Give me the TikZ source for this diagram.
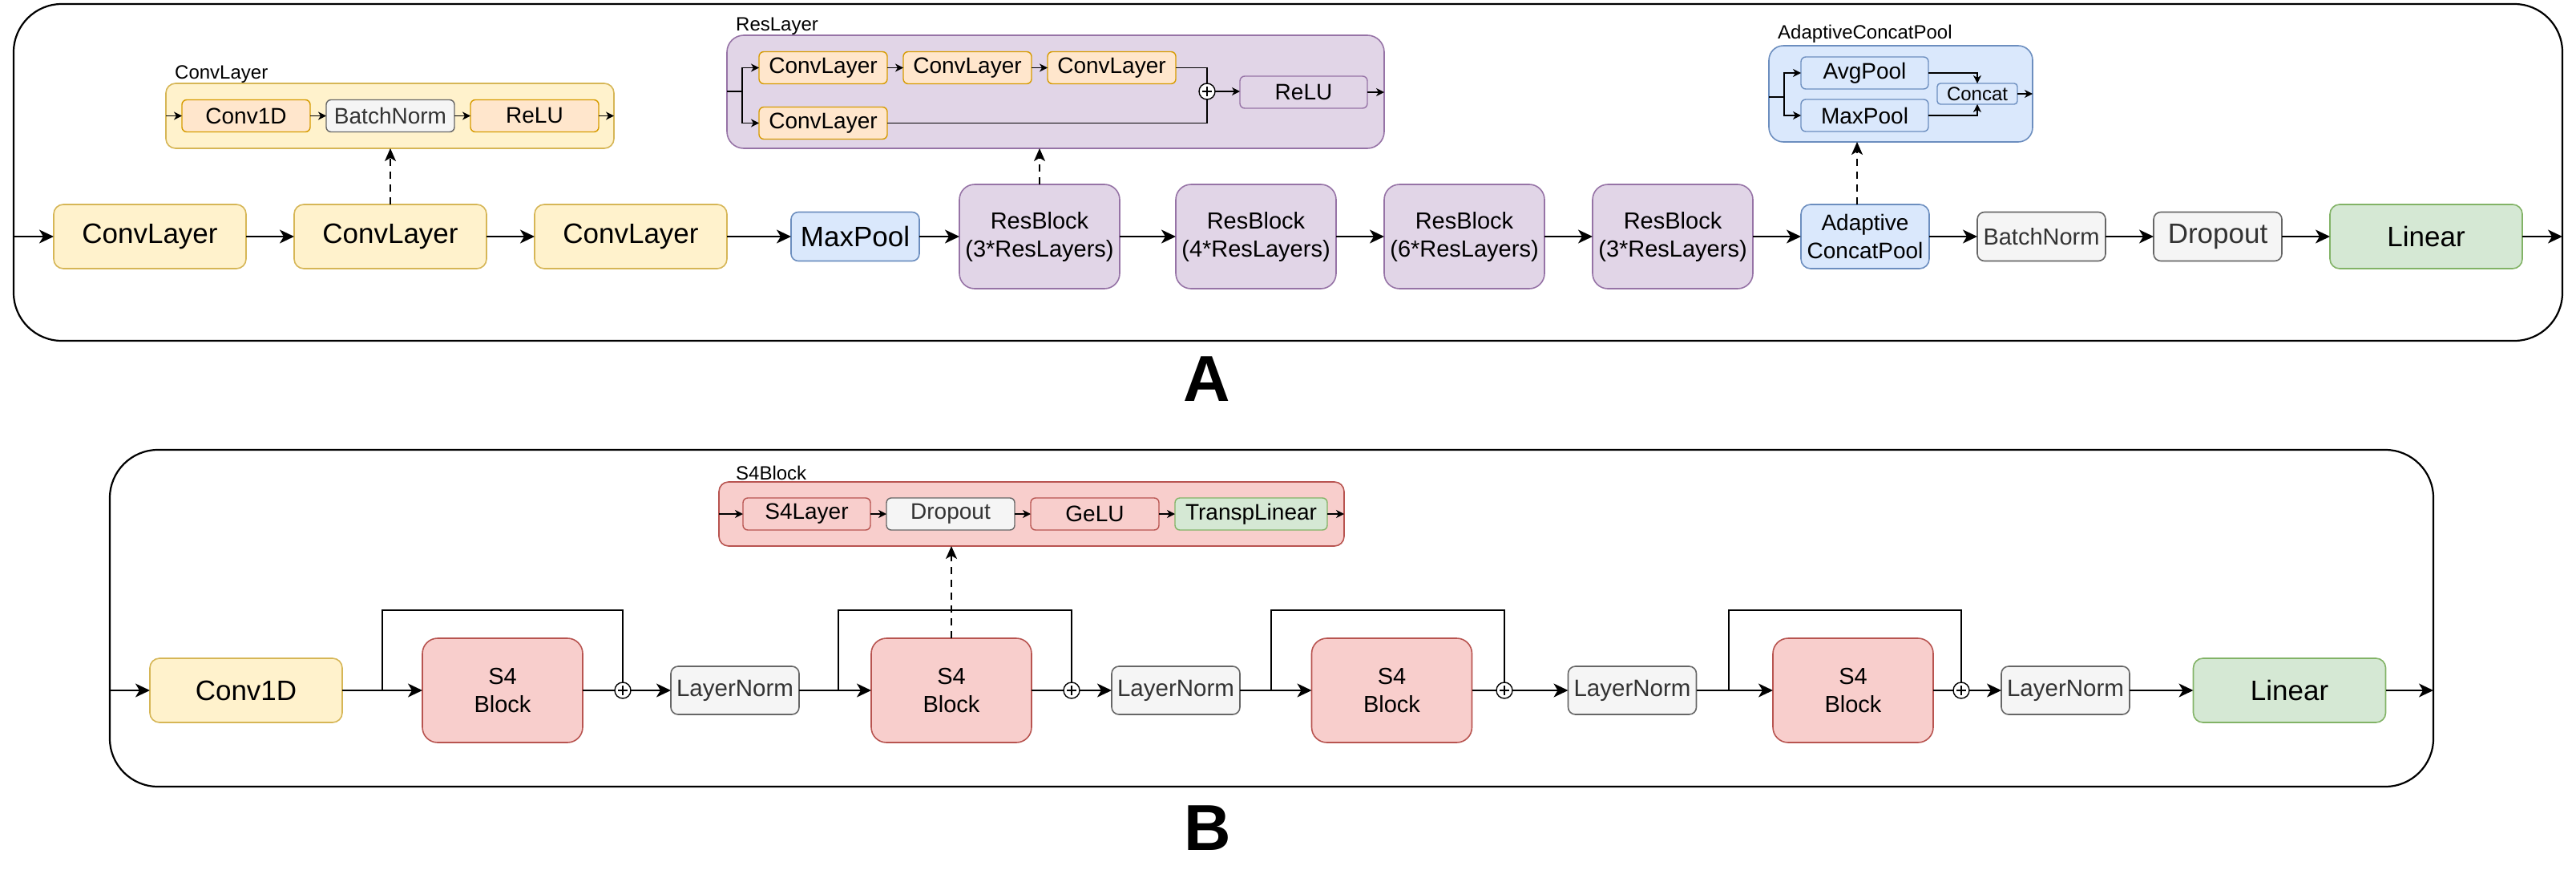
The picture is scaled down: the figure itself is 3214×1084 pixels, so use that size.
\documentclass[tikz,border=0pt]{standalone}
\usepackage{fontspec}
\setmainfont{Liberation Sans}
\usetikzlibrary{positioning}
\usetikzlibrary{arrows.meta}
\definecolor{yelF}{HTML}{FFF2CC}
\definecolor{yelD}{HTML}{D6B656}
\definecolor{orF}{HTML}{FFE6CC}
\definecolor{orD}{HTML}{D79B00}
\definecolor{grF}{HTML}{F5F5F5}
\definecolor{grD}{HTML}{666666}
\definecolor{grT}{HTML}{333333}
\definecolor{blF}{HTML}{DAE8FC}
\definecolor{blD}{HTML}{6C8EBF}
\definecolor{puF}{HTML}{E1D5E7}
\definecolor{puD}{HTML}{9673A6}
\definecolor{reF}{HTML}{F8CECC}
\definecolor{reD}{HTML}{B85450}
\definecolor{gnF}{HTML}{D5E8D4}
\definecolor{gnD}{HTML}{82B366}
\tikzset{
    mynodey/.style = {draw=yelD, fill=yelF, text=black},
    mynodeo/.style = {draw=orD, fill=orF, text=black},
    mynodeg/.style = {draw=grD, fill=grF, text=grT},
    mynodeb/.style = {draw=blD, fill=blF, text=black},
    mynodep/.style = {draw=puD, fill=puF, text=black},
    mynoder/.style = {draw=reD, fill=reF, text=black},
    mynodegr/.style = {draw=gnD, fill=gnF, text=black},
    boxwide/.style = {rectangle, line width=1.6pt, align=center, inner sep=0pt, outer sep=0pt, minimum width=240pt, minimum height=80pt, rounded corners=12pt, font=\fontsize{35}{42}\selectfont},
    boxmid/.style = {rectangle, line width=1.6pt, align=center, inner sep=0pt, outer sep=0pt, minimum width=160pt, minimum height=61pt, rounded corners=9pt, font=\fontsize{35}{42}\selectfont},
    boxtall/.style = {rectangle, line width=1.6pt, align=center, inner sep=0pt, outer sep=0pt, minimum width=200pt, minimum height=130pt, rounded corners=19pt, font=\fontsize{29}{35}\selectfont},
    boxin/.style = {rectangle, line width=1.4pt, align=center, inner sep=0pt, outer sep=0pt, minimum width=160pt, minimum height=40pt, rounded corners=6pt, font=\fontsize{28}{33}\selectfont},
    boxgroup/.style = {rectangle, line width=1.6pt, inner sep=0pt, outer sep=0pt},
    lbl/.style = {anchor=base west, inner sep=0pt, font=\fontsize{24}{28}\selectfont},
    sumnode/.style = {circle, draw, line width=1.4pt, fill=white, minimum size=20pt, inner sep=0pt, outer sep=0pt,
        path picture={\draw[line width=1.2pt] ([yshift=-6pt]path picture bounding box.center) -- ([yshift=6pt]path picture bounding box.center)
                                               ([xshift=-6pt]path picture bounding box.center) -- ([xshift=6pt]path picture bounding box.center);}},
    frame/.style = {draw, line width=2.2pt, rounded corners=60pt},
    edgen/.style = {-{Stealth[length=18pt,width=17pt,inset=5pt]}, line width=2pt, black},
    edgel/.style = {-, line width=2pt, black},
    edges/.style = {-{Stealth[length=10pt,width=10pt,inset=3pt]}, line width=1.6pt, black},
    edgesl/.style = {-, line width=1.6pt, black},
    edgeskip/.style = {-, line width=1.6pt, black}, % residual
    edged/.style = {-{Stealth[length=16pt,width=14pt,inset=4pt]}, line width=1.5pt, black, dash pattern=on 9pt off 7pt}, % zoom in
}

\begin{document}
\begin{tikzpicture}[x=1pt, y=-1pt]
  \useasboundingbox (0,0) rectangle (3214,1084);

  % ---------------- A ----------------
  \draw[frame] (17,5) rectangle (3197,425);
  \coordinate (inA) at (17,295);
  \coordinate (outA) at (3197,295);

  \node[boxwide, mynodey] (cl1) at (187,295) {ConvLayer};
  \node[boxwide, mynodey, right=60pt of cl1] (cl2) {ConvLayer};
  \node[boxwide, mynodey, right=60pt of cl2] (cl3) {ConvLayer};
  \node[boxmid, mynodeb, right=80pt of cl3] (mp) {MaxPool};
  \node[boxtall, mynodep, right=50pt of mp] (rb1) {ResBlock\\(3*ResLayers)};
  \node[boxtall, mynodep, right=70pt of rb1] (rb2) {ResBlock\\(4*ResLayers)};
  \node[boxtall, mynodep, right=60pt of rb2] (rb3) {ResBlock\\(6*ResLayers)};
  \node[boxtall, mynodep, right=60pt of rb3] (rb4) {ResBlock\\(3*ResLayers)};
  \node[boxwide, mynodeb, minimum width=160pt, right=60pt of rb4, font=\fontsize{28}{35}\selectfont] (acp) {Adaptive\\ConcatPool};
  \node[boxmid, mynodeg, right=60pt of acp, font=\fontsize{29}{35}\selectfont] (bn) {BatchNorm};
  \node[boxmid, mynodeg, right=60pt of bn] (dp) {Dropout};
  \node[boxwide, mynodegr, right=60pt of dp] (lin) {Linear};

  \draw[edgen] (inA) -- (cl1);
  \draw[edgen] (cl1) -- (cl2);
  \draw[edgen] (cl2) -- (cl3);
  \draw[edgen] (cl3) -- (mp);
  \draw[edgen] (mp) -- (rb1);
  \draw[edgen] (rb1) -- (rb2);
  \draw[edgen] (rb2) -- (rb3);
  \draw[edgen] (rb3) -- (rb4);
  \draw[edgen] (rb4) -- (acp);
  \draw[edgen] (acp) -- (bn);
  \draw[edgen] (bn) -- (dp);
  \draw[edgen] (dp) -- (lin);
  \draw[edgen] (lin) -- (outA);

  % ConvLayer
  \node[boxgroup, mynodey, minimum width=559pt, minimum height=81pt, rounded corners=12pt] (convbox) at (486.5,144.5) {};
  \node[lbl] (convlbl) at ([xshift=11pt,yshift=6pt]convbox.north west) {ConvLayer};
  \node[boxin, mynodeo] (c1d) at (307,144.5) {Conv1D};
  \node[boxin, mynodeg, right=20pt of c1d] (bni) {BatchNorm};
  \node[boxin, mynodeo, right=20pt of bni] (relu) {ReLU};
  \draw[edges] (convbox.west |- c1d) -- (c1d);
  \draw[edges] (c1d) -- (bni);
  \draw[edges] (bni) -- (relu);
  \draw[edges] (relu) -- (relu -| convbox.east);
  \draw[edged] (cl2.north) -- (cl2.north |- convbox.south);

  % ResLayer
  \node[boxgroup, mynodep, minimum width=820pt, minimum height=141pt, rounded corners=21pt] (resbox) at (1317,114.5) {};
  \node[lbl] (reslbl) at ([xshift=11pt,yshift=6pt]resbox.north west) {ResLayer};
  \node[boxin, mynodeo] (rla) at (1027,84.5) {ConvLayer};
  \node[boxin, mynodeo, right=20pt of rla] (rlb) {ConvLayer};
  \node[boxin, mynodeo, right=20pt of rlb] (rlc) {ConvLayer};
  \node[boxin, mynodeo, below=29pt of rla] (rld) {ConvLayer};
  \node[sumnode] (rsum) at (1506,114) {};
  \node[boxin, mynodep, minimum width=159pt] (rrelu) at (1626.5,115) {ReLU};
  \coordinate (rsplit) at (926,114);
  \draw[edgesl] (resbox.west |- rsplit) -- (rsplit);
  \draw[edges] (rsplit) |- (rla.west);
  \draw[edges] (rsplit) |- (rld.west);
  \draw[edges] (rla) -- (rlb);
  \draw[edges] (rlb) -- (rlc);
  \draw[edgesl] (rlc.east) -| (rsum.north);
  \draw[edgesl] (rld.east) -| (rsum.south);
  \draw[edges] (rsum.east) -- (rsum.east -| rrelu.west);
  \draw[edges] (rrelu) -- (rrelu -| resbox.east);
  \draw[edged] (rb1.north) -- (rb1.north |- resbox.south);

  % AdaptiveConcatPool
  \node[boxgroup, mynodeb, minimum width=329pt, minimum height=120pt, rounded corners=18pt] (acpbox) at (2371.5,117) {};
  \node[lbl] (acplbl) at ([xshift=11pt,yshift=9pt]acpbox.north west) {AdaptiveConcatPool};
  \node[boxin, mynodeb, minimum width=159pt] (avg) at (2326.5,91) {AvgPool};
  \node[boxin, mynodeb, minimum width=159pt, below=13pt of avg] (maxp) {MaxPool};
  \node[boxin, mynodeb, minimum width=100pt, minimum height=26pt, rounded corners=4pt, font=\fontsize{24}{28}\selectfont] (cat) at (2467,117) {Concat};
  \coordinate (asplit) at (2226,121);
  \draw[edgesl] (acpbox.west |- asplit) -- (asplit);
  \draw[edges] (asplit) |- (avg.west);
  \draw[edges] (asplit) |- (maxp.west);
  \draw[edges] (avg.east) -| (cat.north);
  \draw[edges] (maxp.east) -| (cat.south);
  \draw[edges] (cat.east) -- (cat.east -| acpbox.east);
  \draw[edged] ([xshift=-10pt]acp.north) -- ([xshift=-10pt]acp.north |- acpbox.south);

  \node[font=\fontsize{81}{90}\selectfont\bfseries, anchor=base, inner sep=0pt] (labA) at (1506,500) {A};

  % ---------------- B ----------------
  \draw[frame] (137,561) rectangle (3036,981);
  \coordinate (inB) at (137,861);
  \coordinate (outB) at (3036,861);

  \node[boxwide, mynodey] (cvb) at (307,861) {Conv1D};
  \node[boxtall, mynoder] (s4a) at (627,861) {S4\\Block};
  \node[sumnode] (pa) at (777,861) {};
  \node[boxmid, mynodeg, minimum height=60pt, font=\fontsize{29.5}{35}\selectfont] (ln1) at (917,861) {LayerNorm};
  \node[boxtall, mynoder] (s4b) at (1187,861) {S4\\Block};
  \node[sumnode] (pb) at (1337,861) {};
  \node[boxmid, mynodeg, minimum height=60pt, font=\fontsize{29.5}{35}\selectfont] (ln2) at (1467,861) {LayerNorm};
  \node[boxtall, mynoder] (s4c) at (1736.5,861) {S4\\Block};
  \node[sumnode] (pc) at (1877,861) {};
  \node[boxmid, mynodeg, minimum height=60pt, font=\fontsize{29.5}{35}\selectfont] (ln3) at (2036.5,861) {LayerNorm};
  \node[boxtall, mynoder] (s4d) at (2312,861) {S4\\Block};
  \node[sumnode] (pd) at (2447,861) {};
  \node[boxmid, mynodeg, minimum height=60pt, font=\fontsize{29.5}{35}\selectfont] (ln4) at (2577,861) {LayerNorm};
  \node[boxwide, mynodegr] (linb) at (2856.5,861) {Linear};

  \coordinate (ka) at (477,861);
  \coordinate (kb) at (1046,861);
  \coordinate (kc) at (1586,861);
  \coordinate (kd) at (2157,861);

  \draw[edgen] (inB) -- (cvb);
  \draw[edgen] (cvb) -- (s4a);
  \draw[edgel] (s4a) -- (pa);
  \draw[edgen] (pa) -- (ln1);
  \draw[edgen] (ln1) -- (s4b);
  \draw[edgel] (s4b) -- (pb);
  \draw[edgen] (pb) -- (ln2);
  \draw[edgen] (ln2) -- (s4c);
  \draw[edgel] (s4c) -- (pc);
  \draw[edgen] (pc) -- (ln3);
  \draw[edgen] (ln3) -- (s4d);
  \draw[edgel] (s4d) -- (pd);
  \draw[edgen] (pd) -- (ln4);
  \draw[edgen] (ln4) -- (linb);
  \draw[edgen] (linb) -- (outB);

  \draw[edgeskip] (ka) -- ++(0,-100) -| (pa.north);
  \draw[edgeskip] (kb) -- ++(0,-100) -| (pb.north);
  \draw[edgeskip] (kc) -- ++(0,-100) -| (pc.north);
  \draw[edgeskip] (kd) -- ++(0,-100) -| (pd.north);

  % S4Block
  \node[boxgroup, mynoder, minimum width=780pt, minimum height=80pt, rounded corners=12pt] (s4box) at (1287,641) {};
  \node[lbl] (s4lbl) at ([xshift=21pt,yshift=3pt]s4box.north west) {S4Block};
  \node[boxin, mynoder, minimum width=159pt] (s4l) at (1006.5,641) {S4Layer};
  \node[boxin, mynodeg, right=20pt of s4l] (dri) {Dropout};
  \node[boxin, mynoder, right=20pt of dri] (gelu) {GeLU};
  \node[boxin, mynodegr, minimum width=190pt, right=20pt of gelu] (tl) {TranspLinear};
  \draw[edges] (s4box.west |- s4l) -- (s4l);
  \draw[edges] (s4l) -- (dri);
  \draw[edges] (dri) -- (gelu);
  \draw[edges] (gelu) -- (tl);
  \draw[edges] (tl) -- (tl -| s4box.east);
  \draw[edged] (s4b.north) -- (s4b.north |- s4box.south);

  \node[font=\fontsize{81}{90}\selectfont\bfseries, anchor=base, inner sep=0pt] (labB) at (1507,1060) {B};
\end{tikzpicture}
\end{document}
